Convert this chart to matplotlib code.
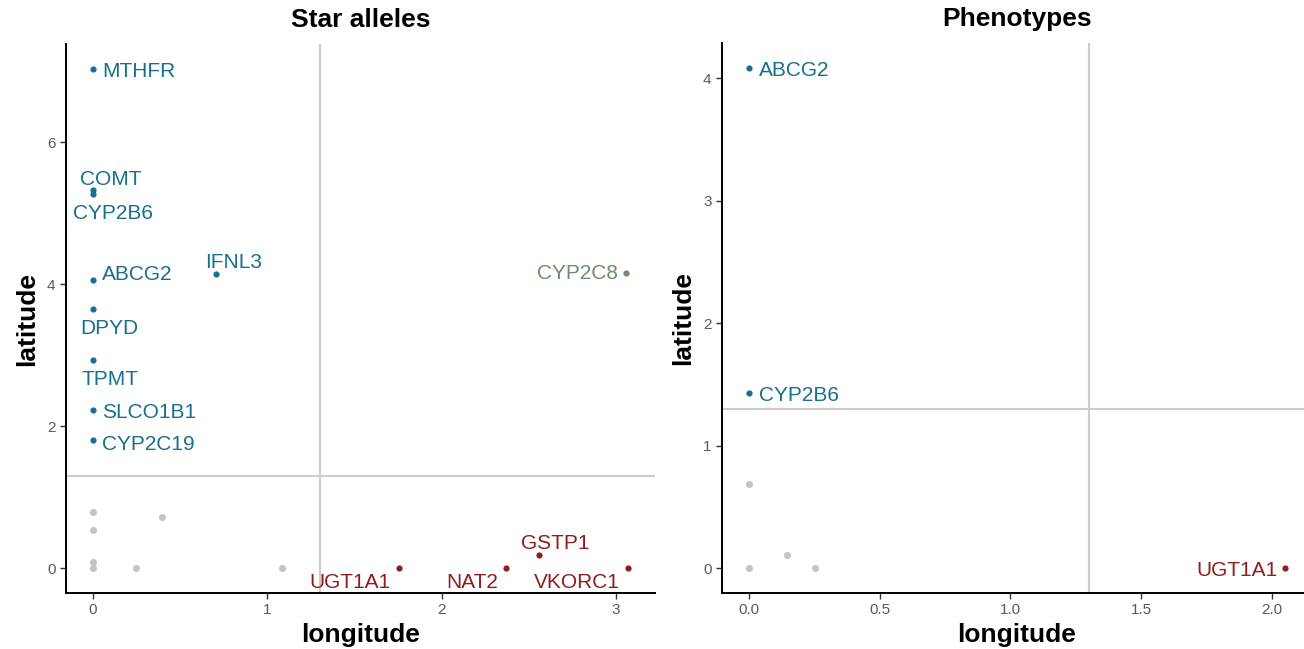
import numpy as np
import matplotlib
matplotlib.use('Agg')
import matplotlib.pyplot as plt

plt.rcParams['font.family'] = ['Liberation Sans', 'DejaVu Sans']

# Star alleles panel
star_genes = ['MTHFR', 'COMT', 'CYP2B6', 'ABCG2', 'IFNL3', 'DPYD', 'TPMT', 'SLCO1B1',
              'CYP2C19', 'CYP2C8', 'UGT1A1', 'NAT2', 'GSTP1', 'VKORC1',
              '', '', '', '', '', '', '']
star_x = [0, 0, 0, 0, 0.705, 0, 0, 0, 0, 3.055, 1.754, 2.37, 2.556, 3.07,
          0, 0, 0, 0, 0.246, 0.395, 1.083]
star_y = [7.03, 5.32, 5.27, 4.06, 4.14, 3.65, 2.93, 2.23, 1.80, 4.15, 0, 0, 0.18, 0,
          0.79, 0.535, 0.085, 0, 0, 0.72, 0]
star_group = ['up'] * 9 + ['mid'] + ['down'] * 4 + ['ns'] * 7

# Phenotypes panel
pheno_genes = ['ABCG2', 'CYP2B6', 'UGT1A1', '', '', '', '']
pheno_x = [0, 0, 2.05, 0, 0, 0.145, 0.252]
pheno_y = [4.085, 1.43, 0, 0.686, 0, 0.106, 0]
pheno_group = ['up', 'up', 'down', 'ns', 'ns', 'ns', 'ns']

threshold = 1.3

colors = {'up': '#17708f', 'down': '#8f1d1d', 'mid': '#6b8f68', 'ns': '#c4c4c4'}

# label offsets in pixels (dx, dy up) and horizontal alignment
star_offsets = {'MTHFR': (9, 0, 'left'), 'COMT': (18, 14, 'center'),
                'CYP2B6': (20, -17, 'center'), 'ABCG2': (9, 8, 'left'),
                'IFNL3': (18, 15, 'center'), 'DPYD': (17, -17, 'center'),
                'TPMT': (17, -16, 'center'), 'SLCO1B1': (9, 0, 'left'),
                'CYP2C19': (9, -1, 'left'), 'CYP2C8': (-8, 3, 'right'),
                'UGT1A1': (-8, -11, 'right'), 'NAT2': (-8, -11, 'right'),
                'GSTP1': (17, 15, 'center'), 'VKORC1': (-8, -11, 'right')}
pheno_offsets = {'ABCG2': (10, 0, 'left'), 'CYP2B6': (10, 0, 'left'),
                 'UGT1A1': (-8, 0, 'right')}

fig = plt.figure(figsize=(13.04, 6.49), dpi=100)
ax1 = fig.add_axes([66/1304, 56/649, 589/1304, 549/649])
ax2 = fig.add_axes([722/1304, 56/649, 590/1304, 550/649])


def draw(ax, genes, xs, ys, groups, offsets, title):
    xs = np.array(xs); ys = np.array(ys)
    ax.axvline(threshold, color='#cccccc', lw=1.5, zorder=0)
    ax.axhline(threshold, color='#cccccc', lw=1.5, zorder=0)
    for g in ['ns', 'up', 'mid', 'down']:
        m = np.array([gr == g for gr in groups])
        size = 26 if g == 'ns' else 20
        ax.scatter(xs[m], ys[m], s=size, color=colors[g], lw=0, zorder=3)
    for name, x, y, g in zip(genes, xs, ys, groups):
        if name == '':
            continue
        dx, dy, ha = offsets[name]
        ax.annotate(name, (x, y), xytext=(dx, dy - 3), textcoords='offset pixels',
                    ha=ha, va='center', fontsize=15, color=colors[g])
    xr = xs.max() - xs.min(); yr = ys.max() - ys.min()
    ax.set_xlim(xs.min() - 0.05*xr, xs.max() + 0.05*xr)
    ax.set_ylim(ys.min() - 0.05*yr, ys.max() + 0.05*yr)
    for s in ['top', 'right']:
        ax.spines[s].set_visible(False)
    for s in ['left', 'bottom']:
        ax.spines[s].set_linewidth(1.4)
    ax.tick_params(length=4, width=1, color='#333333', labelcolor='#595959', labelsize=11)
    ax.set_xlabel('longitude', fontsize=19, fontweight='bold', labelpad=4)
    ax.set_ylabel('latitude', fontsize=19, fontweight='bold', labelpad=6)
    ax.set_title(title, fontsize=19, fontweight='bold', pad=12)


draw(ax1, star_genes, star_x, star_y, star_group, star_offsets, 'Star alleles')
ax1.set_xticks([0, 1, 2, 3])
ax1.set_yticks([0, 2, 4, 6])
draw(ax2, pheno_genes, pheno_x, pheno_y, pheno_group, pheno_offsets, 'Phenotypes')
ax2.set_xticks([0, 0.5, 1, 1.5, 2])
ax2.set_xticklabels(['0.0', '0.5', '1.0', '1.5', '2.0'])
ax2.set_yticks([0, 1, 2, 3, 4])

fig.savefig('out.png', dpi=100)
